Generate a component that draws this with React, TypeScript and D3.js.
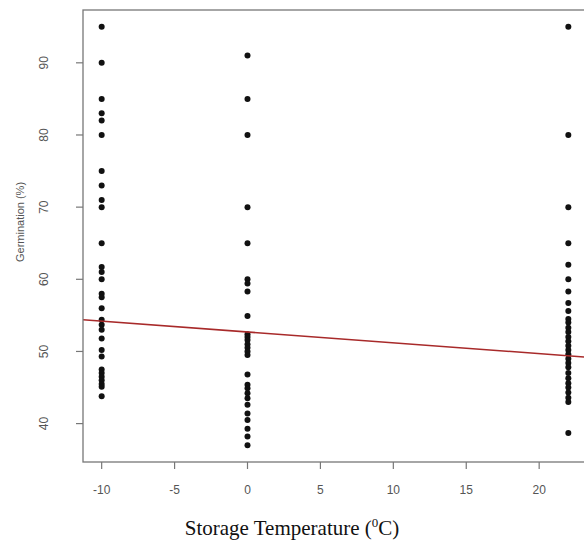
import React from "react";
import * as d3 from "d3";

// germination (%) read per storage temperature
const coldTemp = -10;
const coldValues = [95, 90, 85, 83, 82, 80, 75, 73, 71, 70, 65, 61.7, 61, 60, 58, 57.5, 56, 54.4, 53.7, 53, 51.8, 50.2, 49.3, 47.5, 47, 46.5, 46, 45.5, 45.1, 43.8];
const zeroTemp = 0;
const zeroValues = [91, 85, 80, 70, 65, 60, 59.4, 58.3, 54.9, 52.4, 52, 51.6, 51, 50.5, 50, 49.5, 46.8, 45.4, 44.9, 44.2, 43.5, 42.6, 41.4, 40.5, 39.3, 38.2, 37];
const roomTemp = 22;
const roomValues = [95, 80, 70, 65, 62, 60, 58.3, 56.7, 55.6, 54.5, 54, 53.3, 52.7, 52, 51.4, 50.8, 50.2, 49.6, 49, 48.4, 47.8, 47, 46.3, 45.6, 45, 44.3, 43.6, 43, 38.7];

// fitted line drawn in red
const lineIntercept = 52.7;
const lineSlope = -0.15;

const xTicks = [-10, -5, 0, 5, 10, 15, 20];
const yTicks = [40, 50, 60, 70, 80, 90];

const width = 584;
const height = 544;
const margin = { top: 10, right: -3, bottom: 82, left: 83 };

export default function App() {
  const points = [
    ...coldValues.map(v => ({ t: coldTemp, g: v })),
    ...zeroValues.map(v => ({ t: zeroTemp, g: v })),
    ...roomValues.map(v => ({ t: roomTemp, g: v }))
  ];

  // R style 4% padding on data range
  const tExt = d3.extent(points, d => d.t) as [number, number];
  const gExt = d3.extent(points, d => d.g) as [number, number];
  const tPad = (tExt[1] - tExt[0]) * 0.04;
  const gPad = (gExt[1] - gExt[0]) * 0.04;

  const x0 = margin.left;
  const x1 = width - margin.right;
  const y0 = height - margin.bottom;
  const y1 = margin.top;

  const xScale = d3.scaleLinear().domain([tExt[0] - tPad, tExt[1] + tPad]).range([x0, x1]);
  const yScale = d3.scaleLinear().domain([gExt[0] - gPad, gExt[1] + gPad]).range([y0, y1]);

  const [dLo, dHi] = xScale.domain();
  const fit = d3.line<number>()
    .x(t => xScale(t))
    .y(t => yScale(lineIntercept + lineSlope * t));

  const axisColor = "#777";
  const labelColor = "#555";

  return (
    <div style={{ position: "absolute", left: 0, top: 0 }}>
      <svg width={width} height={height} style={{ display: "block", background: "#fff" }}>
        <defs>
          <clipPath id="plotClip">
            <rect x={x0} y={y1} width={x1 - x0} height={y0 - y1} />
          </clipPath>
        </defs>

        {points.map((d, i) => (
          <circle key={i} cx={xScale(d.t)} cy={yScale(d.g)} r={3} fill="#111" />
        ))}

        <path
          d={fit([dLo, dHi]) || ""}
          stroke="#a82a2a"
          strokeWidth={1.6}
          fill="none"
          clipPath="url(#plotClip)"
        />

        <rect x={x0} y={y1} width={x1 - x0} height={y0 - y1} fill="none" stroke={axisColor} strokeWidth={1.3} />

        {/* x axis */}
        {xTicks.map(t => (
          <g key={t} transform={`translate(${xScale(t)},${y0})`}>
            <line y2={7} stroke={axisColor} strokeWidth={1.2} />
            <text
              y={32}
              textAnchor="middle"
              fontFamily="Liberation Sans, Arial, sans-serif"
              fontSize={12}
              fill={labelColor}
            >
              {t}
            </text>
          </g>
        ))}

        {/* y axis */}
        {yTicks.map(g => (
          <g key={g} transform={`translate(${x0},${yScale(g)})`}>
            <line x2={-7} stroke={axisColor} strokeWidth={1.2} />
            <text
              transform="translate(-39,0) rotate(-90)"
              textAnchor="middle"
              dominantBaseline="central"
              fontFamily="Liberation Sans, Arial, sans-serif"
              fontSize={12}
              fill={labelColor}
            >
              {g}
            </text>
          </g>
        ))}

        <text
          transform={`translate(20,222) rotate(-90)`}
          textAnchor="middle"
          dominantBaseline="central"
          fontFamily="Liberation Sans, Arial, sans-serif"
          fontSize={11}
          fill={labelColor}
        >
          Germination (%)
        </text>

        <text
          x={292}
          y={535}
          textAnchor="middle"
          fontFamily="Liberation Serif, Times New Roman, serif"
          fontSize={21}
          fill="#111"
        >
          Storage Temperature (<tspan fontSize={13} dy={-8}>0</tspan><tspan dy={8}>C)</tspan>
        </text>
      </svg>
    </div>
  );
}
